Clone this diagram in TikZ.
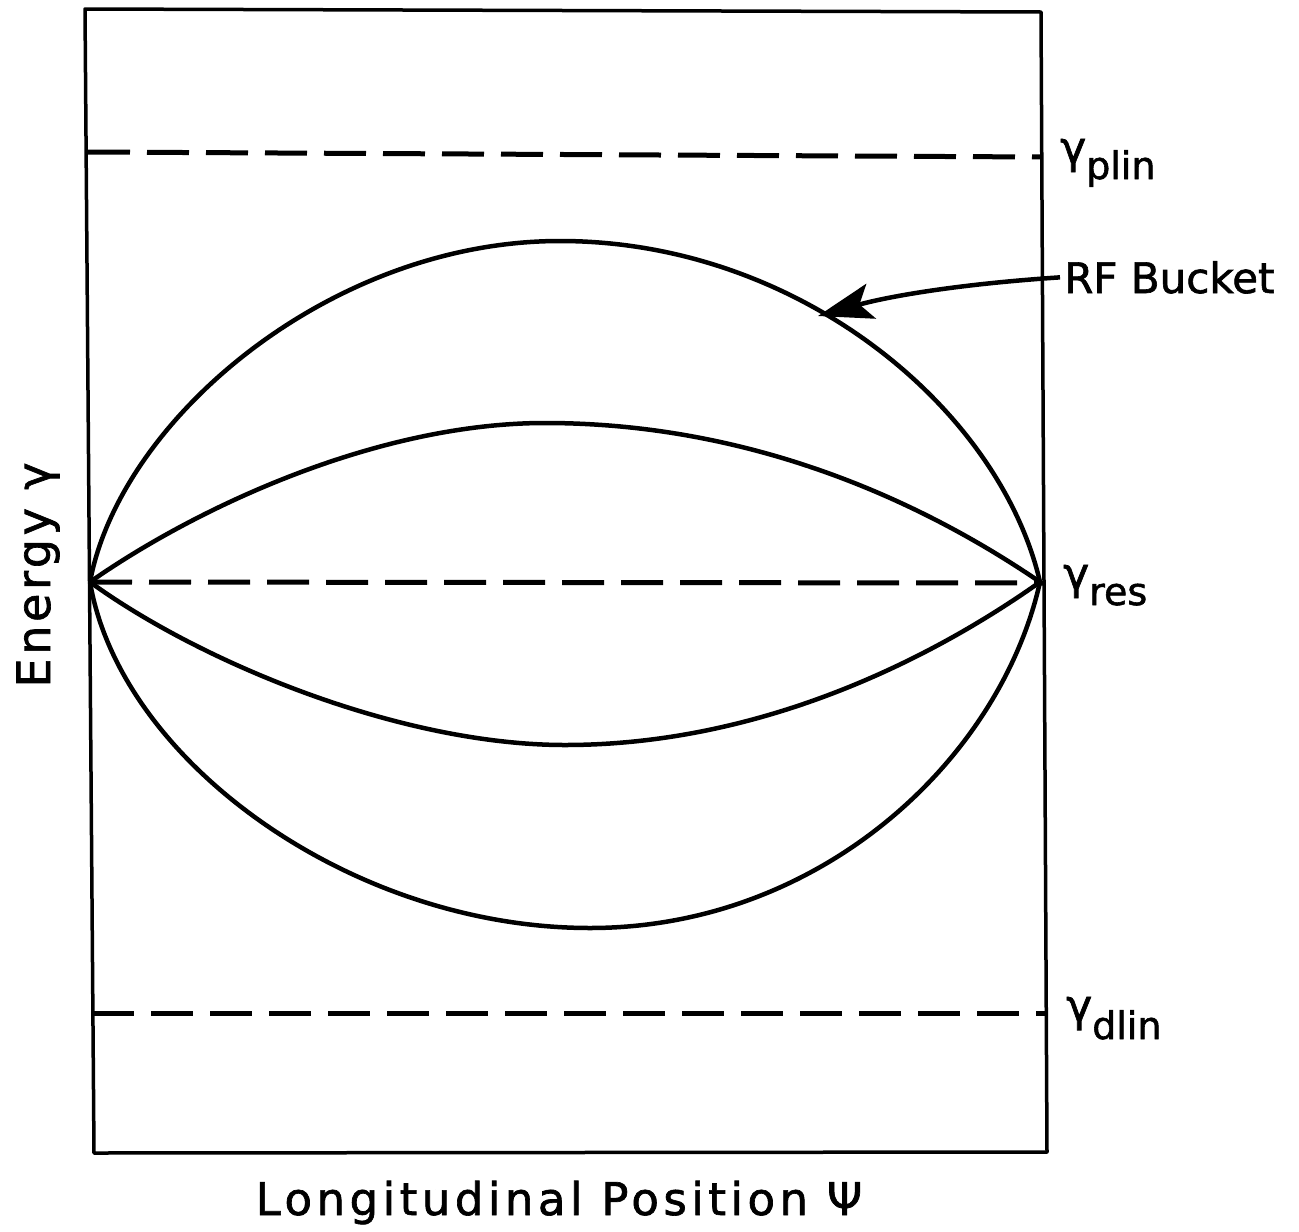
\documentclass[tikz,border=0pt]{standalone}
\usepackage{fontspec}
\setmainfont{DejaVu Sans}
\usetikzlibrary{arrows.meta}
\tikzset{
  frame/.style={line width=3.5pt, line join=round},
  dashline/.style={line width=5pt, dash pattern=on 42pt off 17pt},
  curve/.style={line width=4.5pt},
  lbl/.style={inner sep=0pt, anchor=base west},
  ptr/.style={line width=4.5pt, -{Stealth[length=55pt, width=36pt, inset=12pt]}},
}
\newcommand{\gsub}[2]{{\fontsize{44}{44}\selectfont\addfontfeature{FakeBold=1.5}γ}\raisebox{-#2pt}{\fontsize{38}{38}\selectfont\addfontfeature{FakeBold=1.5}#1}}
\begin{document}
\begin{tikzpicture}[x=1pt, y=-1pt]
\useasboundingbox (0,0) rectangle (1299,1232);
% frame
\draw[frame] (85,9) -- (1041,12) -- (1047,1152) -- (94,1153) -- cycle;
% dashed levels
\draw[dashline] (88,152) -- (1041,157);
\draw[dashline] (90,582) -- (1043,583);
\draw[dashline] (92,1013) -- (1045,1013);
% bucket curves
\draw[curve] (90,582) .. controls (120,420) and (330,241) .. (560,241)
                      .. controls (800,241) and (1000,410) .. (1040,582);
\draw[curve] (90,582) .. controls (200,505) and (380,423) .. (545,423)
                      .. controls (750,423) and (920,500) .. (1040,582);
\draw[curve] (90,582) .. controls (120,760) and (350,928) .. (590,928)
                      .. controls (820,928) and (1000,760) .. (1040,582);
\draw[curve] (90,582) .. controls (200,662) and (400,745) .. (565,745)
                      .. controls (760,745) and (930,660) .. (1040,582);
% labels
\node[lbl] (plin) at (1060,163) {\gsub{plin}{16}};
\node[lbl] (res) at (1063,589) {\gsub{res}{16}};
\node[lbl] (dlin) at (1066,1021) {\gsub{dlin}{18}};
\node[lbl, inner xsep=4pt] (rf) at (1060,293) {\fontsize{42}{42}\selectfont\addfontfeature{FakeBold=1.5}RF Bucket};
\coordinate (tip) at (818,316);
\draw[ptr] (rf.west) .. controls (960,284) and (890,296) .. (tip);
\node[inner sep=0pt, anchor=base] (xlab) at (559,1215) {\fontsize{45}{45}\selectfont\addfontfeature{LetterSpace=10,FakeBold=1.5}Longitudinal Position Ψ};
\node[inner sep=0pt, anchor=base, rotate=90] (ylab) at (50,575) {\fontsize{46}{46}\selectfont\addfontfeature{LetterSpace=8,FakeBold=1.5}Energy γ};
\end{tikzpicture}
\end{document}
